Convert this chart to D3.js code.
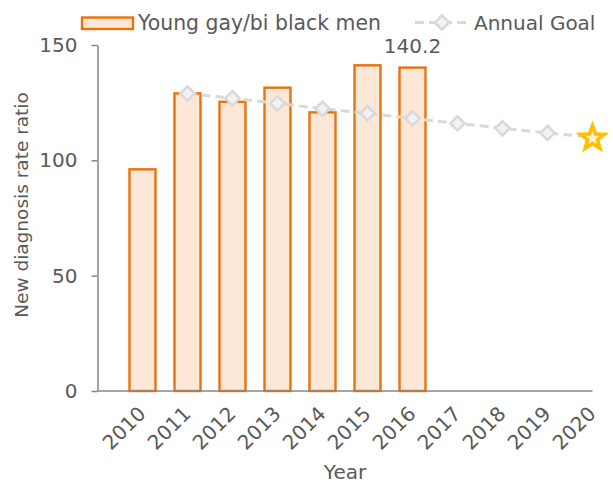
<!DOCTYPE html>
<html>
<head>
<meta charset="utf-8">
<script src="https://cdn.jsdelivr.net/npm/d3@7"></script>
<style>
  html, body { margin: 0; padding: 0; background: #ffffff; }
  svg { display: block; }
  text { font-family: "DejaVu Sans", Verdana, sans-serif; fill: #595959; }
</style>
</head>
<body>
<svg id="chart" width="613" height="484"></svg>
<script>
// Years on the x axis
const years = ["2010", "2011", "2012", "2013", "2014", "2015", "2016", "2017", "2018", "2019", "2020"];
// Observed ratio for young gay/bi black men (2010-2016)
const barYears = ["2010", "2011", "2012", "2013", "2014", "2015", "2016"];
const barValues = [96.1, 129.0, 125.4, 131.5, 120.8, 141.2, 140.2];
// Annual goal path (2011-2020)
const goalYears = ["2011", "2012", "2013", "2014", "2015", "2016", "2017", "2018", "2019", "2020"];
const goalValues = [129.0, 126.9, 124.7, 122.4, 120.4, 118.2, 116.0, 113.9, 111.9, 110.0];
const yTicks = [0, 50, 100, 150];
const seriesNames = ["Young gay/bi black men", "Annual Goal"];
const labelYear = "2016";
const labelText = "140.2";

const svg = d3.select("#chart");
const plot = { left: 97.5, right: 592.5, top: 45, bottom: 391 };

const step = (plot.right - plot.left) / years.length;
const x = d3.scalePoint().domain(years).range([plot.left + step, plot.right]);
const y = d3.scaleLinear().domain([0, 150]).range([plot.bottom, plot.top]);

const axisColor = "#878787";
const barFill = "#fde8d7";
const barStroke = "#e8720c";
const goalStroke = "#d9d9d9";
const goalFill = "#f2f2f2";
const barWidth = 26;

// Y axis
const yAxis = svg.append("g")
  .attr("transform", `translate(${plot.left},0)`)
  .call(d3.axisLeft(y).tickValues(yTicks).tickSize(6).tickPadding(14).tickSizeOuter(0));
yAxis.select(".domain").attr("stroke", axisColor).attr("stroke-width", 1.5);
yAxis.selectAll(".tick line").attr("stroke", axisColor).attr("stroke-width", 1.5);
yAxis.selectAll(".tick text")
  .attr("font-size", 20)
  .attr("font-family", "DejaVu Sans, Verdana, sans-serif")
  .attr("fill", "#595959");

// Bars
svg.append("g").selectAll("rect")
  .data(barValues)
  .join("rect")
  .attr("x", (d, i) => x(barYears[i]) - barWidth / 2)
  .attr("y", d => y(d))
  .attr("width", barWidth)
  .attr("height", d => y(0) - y(d))
  .attr("fill", barFill)
  .attr("stroke", barStroke)
  .attr("stroke-width", 2.4);

// X axis baseline
const xAxis = svg.append("g")
  .attr("transform", `translate(0,${plot.bottom})`)
  .call(d3.axisBottom(x).tickSize(0).tickPadding(0).tickSizeOuter(0));
xAxis.select(".domain")
  .attr("d", `M${plot.left},0H${plot.right}`)
  .attr("stroke", axisColor).attr("stroke-width", 1.5);
xAxis.selectAll(".tick text")
  .attr("font-size", 20)
  .attr("font-family", "DejaVu Sans, Verdana, sans-serif")
  .attr("fill", "#595959")
  .attr("text-anchor", "end")
  .attr("dy", 0)
  .attr("y", 0)
  .attr("transform", "translate(4,24) rotate(-45)");

// Goal line
const goalLine = d3.line()
  .x((d, i) => x(goalYears[i]))
  .y(d => y(d));
svg.append("path")
  .datum(goalValues)
  .attr("d", goalLine)
  .attr("fill", "none")
  .attr("stroke", goalStroke)
  .attr("stroke-width", 3)
  .attr("stroke-dasharray", "9,5");

const diamond = d3.symbol().type(d3.symbolDiamond2).size(130);
svg.append("g").selectAll("path")
  .data(goalValues.slice(0, -1))
  .join("path")
  .attr("d", diamond)
  .attr("transform", (d, i) => `translate(${x(goalYears[i])},${y(d)})`)
  .attr("fill", goalFill)
  .attr("stroke", goalStroke)
  .attr("stroke-width", 2.5);

// Star marking the 2020 goal
function starPath(R, r) {
  const pts = [];
  for (let k = 0; k < 10; k++) {
    const a = -Math.PI / 2 + k * Math.PI / 5;
    const rad = k % 2 === 0 ? R : r;
    pts.push([rad * Math.cos(a), rad * Math.sin(a)]);
  }
  return "M" + pts.map(p => p.join(",")).join("L") + "Z";
}
const lastGoal = goalValues[goalValues.length - 1];
const starG = svg.append("g")
  .attr("transform", `translate(${x(goalYears[goalYears.length - 1])},${y(lastGoal) + 1})`);
starG.append("path").attr("d", starPath(17.7, 7.4)).attr("fill", "#ffc000");
starG.append("path").attr("d", starPath(7, 3)).attr("fill", "#fdf0de");

// Data label
svg.append("text")
  .attr("x", x(labelYear))
  .attr("y", y(barValues[barYears.indexOf(labelYear)]) - 15)
  .attr("text-anchor", "middle")
  .attr("font-size", 20)
  .text(labelText);

// Axis titles
svg.append("text")
  .attr("x", (plot.left + plot.right) / 2)
  .attr("y", 479)
  .attr("text-anchor", "middle")
  .attr("font-size", 20)
  .text("Year");
svg.append("text")
  .attr("transform", "translate(28,205) rotate(-90)")
  .attr("text-anchor", "middle")
  .attr("font-size", 18.5)
  .text("New diagnosis rate ratio");

// Legend
const legend = svg.append("g");
legend.append("rect")
  .attr("x", 82).attr("y", 17.5).attr("width", 51).attr("height", 11.5)
  .attr("fill", barFill).attr("stroke", barStroke).attr("stroke-width", 2.4);
legend.append("text")
  .attr("x", 138).attr("y", 30)
  .attr("font-size", 20.4)
  .text(seriesNames[0]);
legend.append("line")
  .attr("x1", 415).attr("x2", 470).attr("y1", 22.5).attr("y2", 22.5)
  .attr("stroke", goalStroke).attr("stroke-width", 3).attr("stroke-dasharray", "9,5");
legend.append("path")
  .attr("d", diamond)
  .attr("transform", "translate(442,22.5)")
  .attr("fill", goalFill).attr("stroke", goalStroke).attr("stroke-width", 2.5);
legend.append("text")
  .attr("x", 474).attr("y", 30)
  .attr("font-size", 20)
  .text(seriesNames[1]);
</script>
</body>
</html>
